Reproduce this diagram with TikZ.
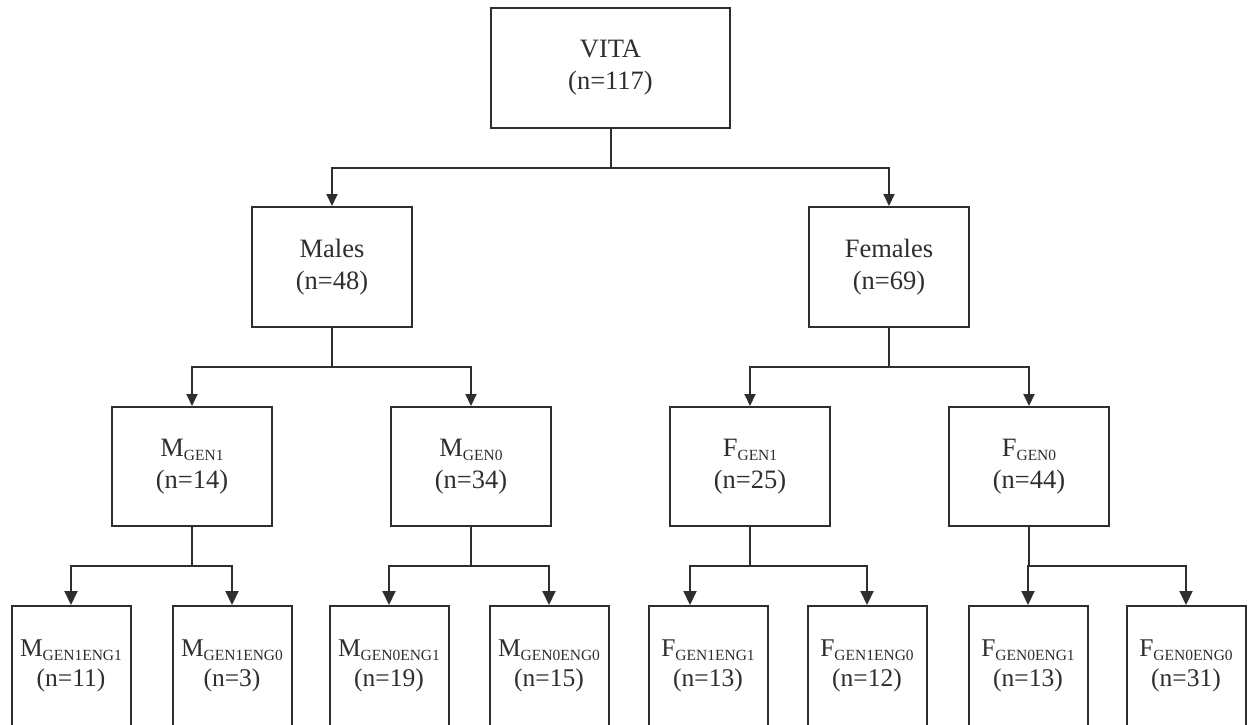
\documentclass[tikz,border=0pt]{standalone}
\usepackage{fontspec}
\setmainfont{Liberation Serif}
\usetikzlibrary{arrows.meta}
\newcommand{\sbs}[1]{\raisebox{-0.16em}{\fontsize{15.5}{15.5}\selectfont #1}}
\definecolor{ink}{HTML}{2E2E2E}
\begin{document}
\begin{tikzpicture}[x=1pt,y=-1pt,
  box/.style={draw=ink,line width=2pt,fill=white,inner sep=0pt,align=center,
    text=ink,font=\fontsize{26.5}{32}\selectfont,minimum height=120pt},
  wbox/.style={box,minimum width=160pt},
  sbox/.style={box,minimum width=119pt,font=\fontsize{25.5}{30}\selectfont},
  link/.style={draw=ink,line width=2pt},
  arr/.style={link,-{Triangle[width=11pt,length=12pt]}},
  barr/.style={link,-{Triangle[width=13pt,length=14pt]}}]
\clip (0,0) rectangle (1248,725);
\fill[white] (0,0) rectangle (1248,725);
% level 0
\node[box,minimum width=239pt] (vita) at (610.5,68) {VITA\\(n=117)};
% level 1
\node[wbox] (males) at (332,267) {Males\\(n=48)};
\node[wbox] (females) at (889,267) {Females\\(n=69)};
% level 2
\node[wbox,minimum height=119pt] (mg1) at (192,466.5) {M\sbs{GEN1}\\(n=14)};
\node[wbox,minimum height=119pt] (mg0) at (471,466.5) {M\sbs{GEN0}\\(n=34)};
\node[wbox,minimum height=119pt] (fg1) at (750,466.5) {F\sbs{GEN1}\\(n=25)};
\node[wbox,minimum height=119pt] (fg0) at (1029,466.5) {F\sbs{GEN0}\\(n=44)};
% level 3
\node[sbox] (mg1e1) at (71,666) {M\sbs{GEN1ENG1}\\(n=11)};
\node[sbox] (mg1e0) at (232,666) {M\sbs{GEN1ENG0}\\(n=3)};
\node[sbox] (mg0e1) at (389,666) {M\sbs{GEN0ENG1}\\(n=19)};
\node[sbox] (mg0e0) at (549,666) {M\sbs{GEN0ENG0}\\(n=15)};
\node[sbox] (fg1e1) at (708,666) {F\sbs{GEN1ENG1}\\(n=13)};
\node[sbox] (fg1e0) at (867,666) {F\sbs{GEN1ENG0}\\(n=12)};
\node[sbox] (fg0e1) at (1028,666) {F\sbs{GEN0ENG1}\\(n=13)};
\node[sbox] (fg0e0) at (1186,666) {F\sbs{GEN0ENG0}\\(n=31)};
% junctions
\coordinate (j0) at (610.5,168);
\coordinate (jm) at (332,367);
\coordinate (jf) at (889,367);
\coordinate (jmg1) at (192,566);
\coordinate (jmg0) at (471,566);
\coordinate (jfg1) at (750,566);
\coordinate (jfg0) at (1029,566);
% connectors
\draw[link] (vita.south) -- (j0);
\draw[arr] (j0) -| (males.north);
\draw[arr] (j0) -| (females.north);
\draw[link] (males.south) -- (jm);
\draw[arr] (jm) -| (mg1.north);
\draw[arr] (jm) -| (mg0.north);
\draw[link] (females.south) -- (jf);
\draw[arr] (jf) -| (fg1.north);
\draw[arr] (jf) -| (fg0.north);
\draw[link] (mg1.south) -- (jmg1);
\draw[barr] (jmg1) -| (mg1e1.north);
\draw[barr] (jmg1) -| (mg1e0.north);
\draw[link] (mg0.south) -- (jmg0);
\draw[barr] (jmg0) -| (mg0e1.north);
\draw[barr] (jmg0) -| (mg0e0.north);
\draw[link] (fg1.south) -- (jfg1);
\draw[barr] (jfg1) -| ([xshift=-18pt]fg1e1.north);
\draw[barr] (jfg1) -| (fg1e0.north);
\draw[link] (fg0.south) -- (jfg0);
\draw[barr] (jfg0) -| (fg0e1.north);
\draw[barr] (jfg0) -| (fg0e0.north);
\end{tikzpicture}
\end{document}
